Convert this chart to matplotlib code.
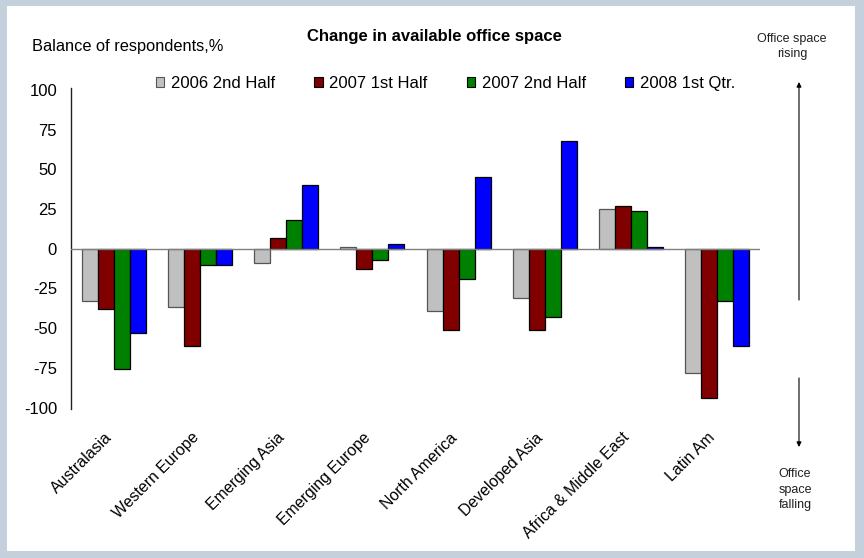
import matplotlib
matplotlib.use("Agg")
import matplotlib.pyplot as plt
import matplotlib.transforms as mtransforms
from matplotlib.patches import Rectangle, Patch, FancyArrowPatch
import numpy as np

plt.rcParams['font.family'] = ['Liberation Sans', 'DejaVu Sans']

regions = ['Australasia', 'Western Europe', 'Emerging Asia', 'Emerging Europe',
           'North America', 'Developed Asia', 'Africa & Middle East', 'Latin Am']
series = ['2006 2nd Half', '2007 1st Half', '2007 2nd Half', '2008 1st Qtr.']
h2_2006 = [-33, -37, -9, 1, -39, -31, 25, -78]
h1_2007 = [-38, -61, 7, -13, -51, -51, 27, -94]
h2_2007 = [-76, -10, 18, -7, -19, -43, 24, -33]
q1_2008 = [-53, -10, 40, 3, 45, 68, 1, -61]
values = [h2_2006, h1_2007, h2_2007, q1_2008]
colors = ['#c0c0c0', '#800000', '#008000', '#0000ff']
edges = ['#555555', 'black', 'black', 'black']
yticks = [100, 75, 50, 25, 0, -25, -50, -75, -100]

W, H = 864, 558
fig = plt.figure(figsize=(W / 100, H / 100), dpi=100)
fig.patch.set_facecolor('#c4d0db')
# white inner panel
fig.patches.append(Rectangle((7 / W, 1 - 551 / H), (855 - 7) / W, (551 - 6) / H,
                             transform=fig.transFigure, facecolor='white',
                             edgecolor='none', zorder=-10))

ax = fig.add_axes([71 / W, 1 - 407.5 / H, (760 - 71) / W, (407.5 - 90) / H])
ax.set_facecolor('none')
ax.set_zorder(2)

x = np.arange(len(regions))
bw = 0.186
for i, vals in enumerate(values):
    ax.bar(x + (i - 1.5) * bw, vals, bw, color=colors[i], edgecolor=edges[i],
           linewidth=0.9, label=series[i], zorder=2)

ax.axhline(0, color='#808080', lw=1.0, zorder=3)
ax.set_xlim(-0.5, len(regions) - 0.5)
ax.set_ylim(-100, 100)
ax.set_yticks(yticks)
ax.set_yticklabels([str(v) for v in yticks])
ax.tick_params(axis='y', length=0, pad=10, labelsize=12)
ax.set_xticks(x)
ax.set_xticklabels(regions, rotation=45, ha='right', va='center',
                   rotation_mode='anchor', fontsize=11.4)
ax.tick_params(axis='x', length=0, pad=20)
offset = mtransforms.ScaledTranslation(-4 / 100, 0, fig.dpi_scale_trans)
for lab in ax.get_xticklabels():
    lab.set_transform(lab.get_transform() + offset)
for s in ['top', 'right', 'bottom']:
    ax.spines[s].set_visible(False)
ax.spines['left'].set_color('#202020')
ax.spines['left'].set_linewidth(1.0)
ax.spines['left'].set_bounds(-101, 101)

fig.text(434 / W, 1 - 36.5 / H, 'Change in available office space',
         ha='center', va='center', fontsize=12, fontweight='bold')
fig.text(32 / W, 1 - 47 / H, 'Balance of respondents,%',
         ha='left', va='center', fontsize=11.75)

handles = [Patch(facecolor=colors[i], edgecolor=edges[i], linewidth=0.8)
           for i in range(4)]
fig.legend(handles, series, loc='center left', bbox_to_anchor=(156 / W, 1 - 83.5 / H),
           ncol=4, frameon=False, fontsize=12, handlelength=0.5,
           handleheight=0.5, handletextpad=0.4, columnspacing=2.35,
           borderpad=0, borderaxespad=0)

# side notes with arrows
fig.text(792 / W, 1 - 46.5 / H, 'Office space\nrising', ha='center', va='center',
         fontsize=9, color='#202020', linespacing=1.35)
fig.text(795 / W, 1 - 489.5 / H, 'Office\nspace\nfalling', ha='center', va='center',
         fontsize=9, color='#202020', linespacing=1.35)
arrow = dict(arrowstyle='-|>', color='black', lw=0.8, mutation_scale=7,
             shrinkA=0, shrinkB=0)
fig.add_artist(FancyArrowPatch((799 / W, 1 - 300 / H), (799 / W, 1 - 82 / H),
                               transform=fig.transFigure, **arrow))
fig.add_artist(FancyArrowPatch((799 / W, 1 - 378 / H), (799 / W, 1 - 447 / H),
                               transform=fig.transFigure, **arrow))

fig.savefig('out.png', dpi=100, facecolor=fig.get_facecolor())
